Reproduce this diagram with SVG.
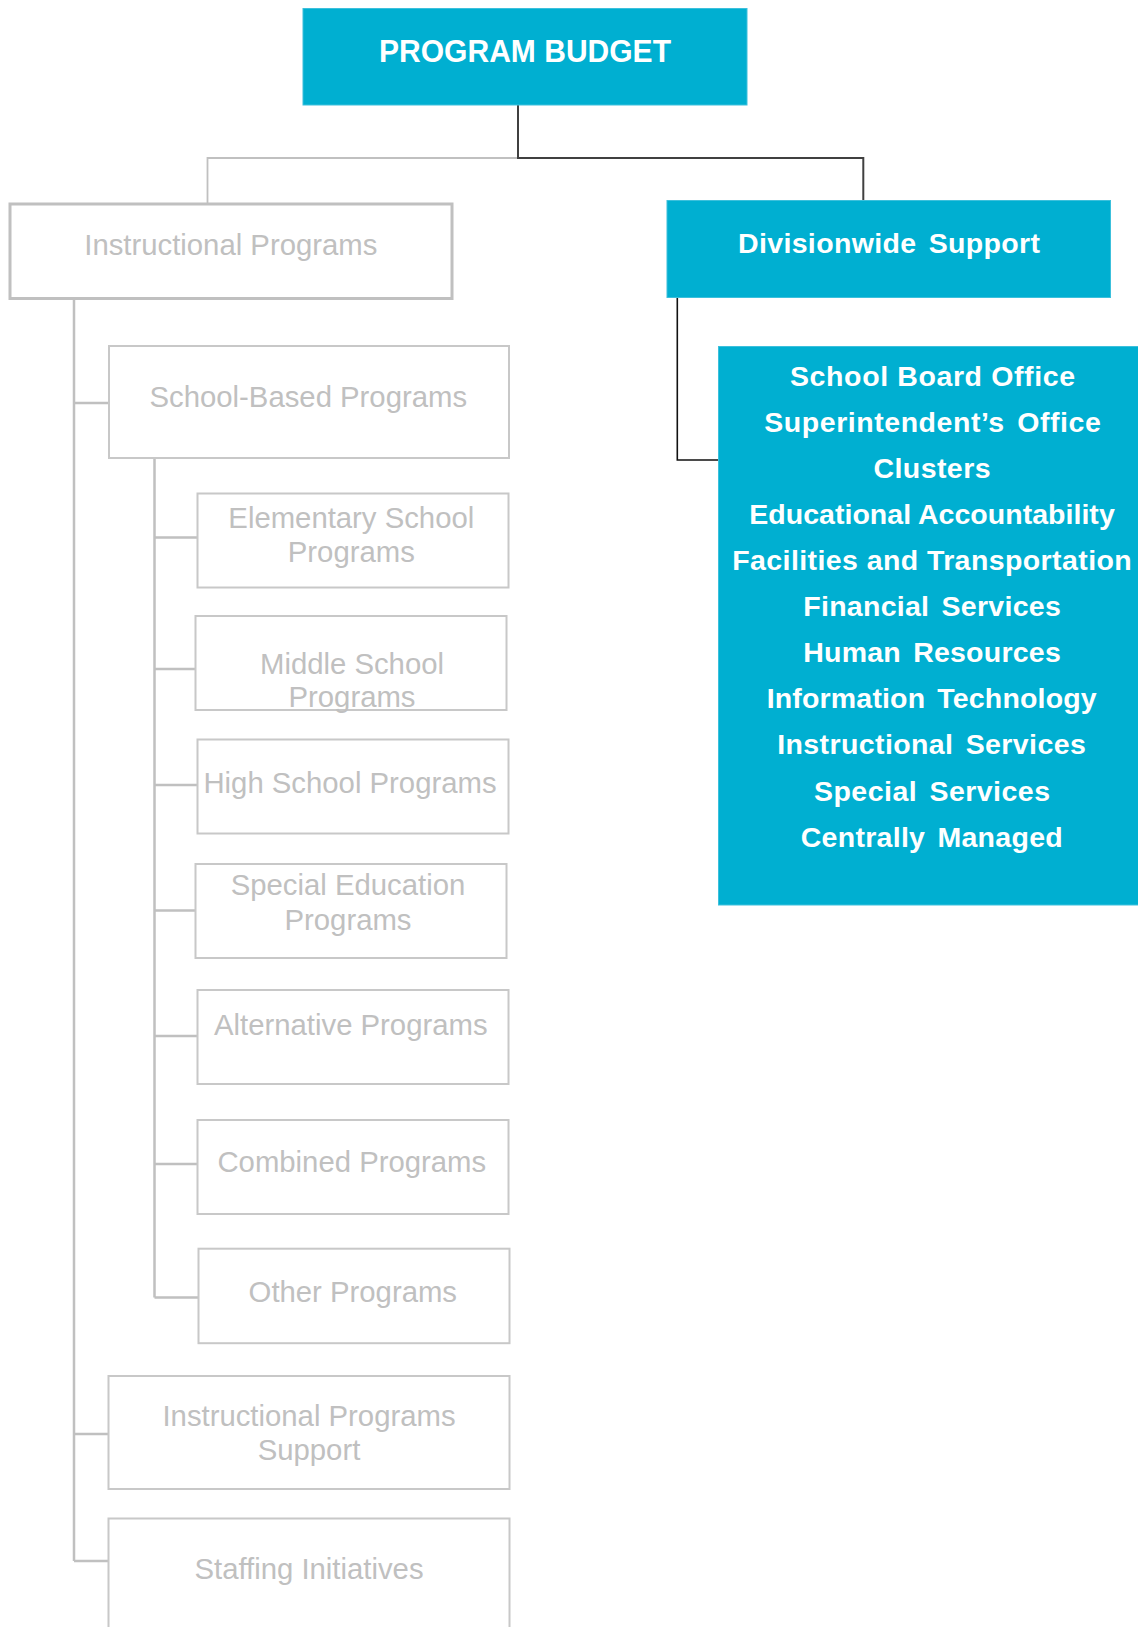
<svg xmlns="http://www.w3.org/2000/svg" width="1138" height="1627" viewBox="0 0 1138 1627">
<style>
.bg{fill:#ffffff}
.cyan{fill:#00afd1;stroke:#3cc0dc;stroke-width:1}
.gbox{fill:#ffffff;stroke:#c8c8c8;stroke-width:2}
.gbox2{fill:#ffffff;stroke:#c0c0c0;stroke-width:3}
.wt{font-family:"Liberation Sans",Arial,sans-serif;font-weight:bold;fill:#ffffff;text-anchor:middle}
.ws{word-spacing:4px}
.gt{font-family:"Liberation Sans",Arial,sans-serif;font-size:29.3px;fill:#c0c0c0;text-anchor:middle}
.gl{fill:none;stroke:#c0c0c0;stroke-width:2.5}
.gl1{fill:none;stroke:#c0c0c0;stroke-width:1.8}
.dl{fill:none;stroke:#404040;stroke-width:2}
.bl{fill:none;stroke:#111111;stroke-width:1.6}
</style>
<rect class="bg" x="0" y="0" width="1138" height="1627"/>
<g id="connectors">
<path class="gl1" d="M518,158 H207.5 V203.5"/>
<path class="dl" d="M518,105 V158 H863.3 V200.5"/>
<path class="bl" d="M677.3,298 V460 H718.5"/>
<path class="gl" d="M74,299 V1561 M74,403 H109 M74,1434 H109 M74,1561 H109"/>
<path class="gl" d="M154.5,458 V1297.5 M154.5,537.5 H197.5 M154.5,669 H195.5 M154.5,785 H197.5 M154.5,910.5 H195.5 M154.5,1036 H197.5 M154.5,1164 H197.5 M154.5,1297.5 H198.5"/>
</g>
<g id="program-budget">
<rect class="cyan" x="303" y="8.5" width="444" height="96.5"/>
<text class="wt" x="525" y="62" font-size="30.5" textLength="292" lengthAdjust="spacingAndGlyphs">PROGRAM BUDGET</text>
</g>
<g id="instructional-programs">
<rect class="gbox2" x="10" y="204" width="442" height="94.5"/>
<text class="gt" x="230.8" y="255">Instructional Programs</text>
</g>
<g id="divisionwide-support">
<rect class="cyan" x="667" y="200.5" width="443.5" height="97"/>
<text class="wt ws" x="889" y="253" font-size="28.5" textLength="302" lengthAdjust="spacing">Divisionwide Support</text>
</g>
<g id="divisionwide-units">
<rect class="cyan" x="718.5" y="346.5" width="425" height="558.5"/>
<text class="wt" x="932.5" y="386" font-size="28.5" textLength="285" lengthAdjust="spacing">School Board Office</text>
<text class="wt ws" x="932.5" y="432" font-size="28.5" textLength="336.5" lengthAdjust="spacing">Superintendent’s Office</text>
<text class="wt" x="932" y="478" font-size="28.5" textLength="117" lengthAdjust="spacing">Clusters</text>
<text class="wt" x="932" y="524" font-size="28.5" textLength="365.5" lengthAdjust="spacing">Educational Accountability</text>
<text class="wt" x="932" y="570" font-size="28.5" textLength="399.5" lengthAdjust="spacing">Facilities and Transportation</text>
<text class="wt ws" x="932" y="616" font-size="28.5" textLength="257.5" lengthAdjust="spacing">Financial Services</text>
<text class="wt ws" x="932" y="662" font-size="28.5" textLength="257.5" lengthAdjust="spacing">Human Resources</text>
<text class="wt ws" x="931.7" y="708" font-size="28.5" textLength="330" lengthAdjust="spacing">Information Technology</text>
<text class="wt ws" x="931.5" y="754" font-size="28.5" textLength="308.5" lengthAdjust="spacing">Instructional Services</text>
<text class="wt ws" x="932" y="800.5" font-size="28.5" textLength="236" lengthAdjust="spacing">Special Services</text>
<text class="wt ws" x="931.7" y="846.5" font-size="28.5" textLength="262" lengthAdjust="spacing">Centrally Managed</text>
</g>
<g id="school-based-programs">
<rect class="gbox" x="109" y="346" width="400" height="112"/>
<text class="gt" x="308.3" y="406.5">School-Based Programs</text>
</g>
<g id="elementary-school-programs">
<rect class="gbox" x="197.5" y="493.5" width="311" height="94"/>
<text class="gt" x="351.3" y="528.3">Elementary School</text>
<text class="gt" x="351.3" y="561.7">Programs</text>
</g>
<g id="middle-school-programs">
<rect class="gbox" x="195.5" y="616" width="311" height="94"/>
<text class="gt" x="352" y="674.3">Middle School</text>
<text class="gt" x="352" y="706.7">Programs</text>
</g>
<g id="high-school-programs">
<rect class="gbox" x="197.5" y="739.5" width="311" height="94"/>
<text class="gt" x="350" y="793.3">High School Programs</text>
</g>
<g id="special-education-programs">
<rect class="gbox" x="195.5" y="864" width="311" height="94"/>
<text class="gt" x="348" y="895">Special Education</text>
<text class="gt" x="348" y="930">Programs</text>
</g>
<g id="alternative-programs">
<rect class="gbox" x="197.5" y="990" width="311" height="94"/>
<text class="gt" x="350.8" y="1035">Alternative Programs</text>
</g>
<g id="combined-programs">
<rect class="gbox" x="197.5" y="1120" width="311" height="94"/>
<text class="gt" x="351.8" y="1171.7">Combined Programs</text>
</g>
<g id="other-programs">
<rect class="gbox" x="198.5" y="1248.7" width="311" height="94.5"/>
<text class="gt" x="352.8" y="1301.7">Other Programs</text>
</g>
<g id="instructional-programs-support">
<rect class="gbox" x="108.5" y="1376" width="401" height="113"/>
<text class="gt" x="309" y="1425.7">Instructional Programs</text>
<text class="gt" x="309" y="1460">Support</text>
</g>
<g id="staffing-initiatives">
<rect class="gbox" x="108.5" y="1518.5" width="401" height="120"/>
<text class="gt" x="309" y="1579">Staffing Initiatives</text>
</g>
</svg>
